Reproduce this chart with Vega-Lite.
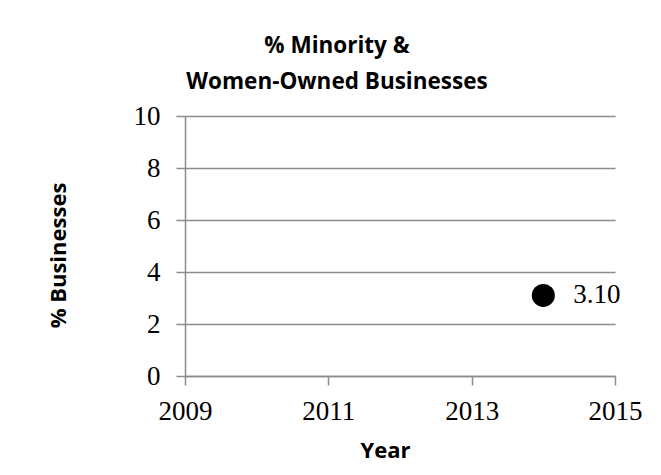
{
  "$schema": "https://vega.github.io/schema/vega-lite/v6.json",
  "autosize": {"type": "none"},
  "width": 430,
  "height": 260,
  "padding": {"left": 185, "top": 116, "right": 46, "bottom": 99},
  "background": "white",
  "config": {
    "view": {"stroke": null},
    "axis": {
      "domainColor": "#8c8c8c",
      "domainWidth": 1.5,
      "tickColor": "#8c8c8c",
      "tickWidth": 1.5,
      "tickSize": 9,
      "gridColor": "#8c8c8c",
      "gridWidth": 1.5,
      "labelFont": "Liberation Serif",
      "labelFontSize": 27,
      "labelColor": "black",
      "titleFont": "Open Sans",
      "titleFontSize": 22,
      "titleFontWeight": "bold",
      "titleColor": "black"
    }
  },
  "title": {
    "text": ["% Minority &", "Women-Owned Businesses"],
    "font": "Open Sans",
    "fontSize": 22.5,
    "fontWeight": "bold",
    "lineHeight": 36,
    "color": "black",
    "anchor": "middle",
    "dx": -63,
    "offset": 9
  },
  "data": {
    "values": [
      {"Year": 2014, "Percent": 3.1}
    ]
  },
  "encoding": {
    "x": {
      "field": "Year",
      "type": "quantitative",
      "scale": {"domain": [2009, 2015], "nice": false, "zero": false},
      "axis": {
        "title": "Year",
        "values": [2009, 2011, 2013, 2015],
        "format": "d",
        "grid": false,
        "labelPadding": 13,
        "labelFlush": false,
        "titlePadding": 16,
        "titleX": 200
      }
    },
    "y": {
      "field": "Percent",
      "type": "quantitative",
      "scale": {"domain": [0, 10], "nice": false},
      "axis": {
        "title": "% Businesses",
        "values": [0, 2, 4, 6, 8, 10],
        "labelPadding": 16,
        "grid": true,
        "titleAngle": 270,
        "titleX": -127,
        "titleY": 139,
        "titleAlign": "center",
        "titleBaseline": "middle"
      }
    }
  },
  "layer": [
    {
      "mark": {"type": "point", "filled": true, "color": "black", "opacity": 1, "size": 530}
    },
    {
      "mark": {"type": "text", "align": "left", "baseline": "middle", "dx": 30, "font": "Liberation Serif", "fontSize": 27, "color": "black"},
      "encoding": {"text": {"field": "Percent", "type": "quantitative", "format": ".2f"}}
    }
  ]
}
